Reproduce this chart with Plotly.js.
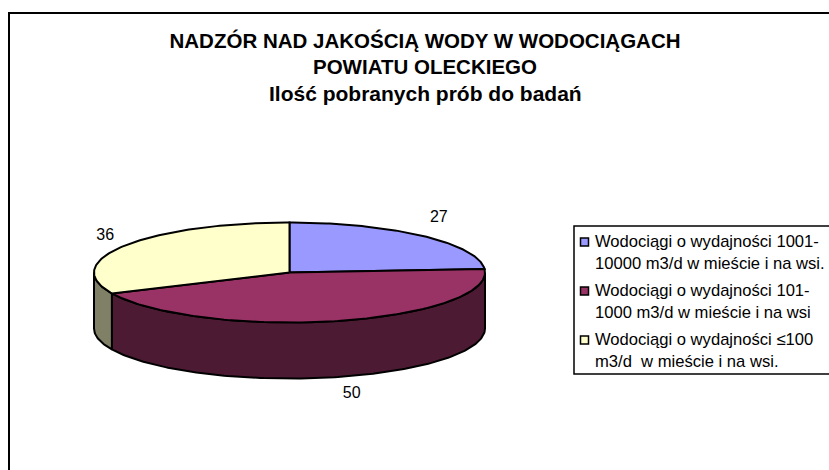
<!DOCTYPE html>
<html>
<head>
<meta charset="utf-8">
<script src="https://cdn.plot.ly/plotly-3.0.1.min.js"></script>
<style>html,body{margin:0;padding:0;background:#fff}</style>
</head>
<body>
<div id="chart" style="width:829px;height:470px"></div>
<script>
const categories = [
  "Wodociągi o wydajności 1001-<br>10000 m3/d w mieście i na wsi.",
  "Wodociągi o wydajności 101-<br>1000 m3/d w mieście i na wsi",
  "Wodociągi o wydajności ≤100<br>m3/d  w mieście i na wsi."
];
const values = [27, 50, 36];
const topColors = ["#9999FF", "#993366", "#FFFFCC"];
const sideColors = ["#4D4D80", "#4D1A33", "#808066"];
const titleLines = [
  "NADZÓR NAD JAKOŚCIĄ WODY W WODOCIĄGACH",
  "POWIATU OLECKIEGO",
  "Ilość pobranych prób do badań"
];

const FONT = "Liberation Sans, Arial, sans-serif";
const cx = 289.5, cy = 272.5, rx = 195.5, ry = 50, depth = 56;
const total = values.reduce((a, b) => a + b, 0);
const STEP = 1;

function pt(deg, dy) {
  const r = deg * Math.PI / 180;
  return [cx + rx * Math.sin(r), cy - ry * Math.cos(r) + (dy || 0)];
}
function arc(a, b, dy) {
  const out = [];
  const n = Math.max(2, Math.ceil(Math.abs(b - a) / STEP));
  for (let i = 0; i <= n; i++) out.push(pt(a + (b - a) * i / n, dy));
  return out;
}
function poly(points, color, name) {
  return {
    type: "scatter", mode: "lines", fill: "toself", fillcolor: color,
    x: points.map(p => p[0]), y: points.map(p => p[1]),
    line: {color: "#000", width: 2, shape: "linear"},
    hoverinfo: "skip", name: name || "", showlegend: false
  };
}

const traces = [];
let start = 0;
const spans = values.map(v => {
  const s = [start, start + v / total * 360];
  start = s[1];
  return s;
});

// side walls: only the part of the rim that faces the viewer (90° to 270°)
spans.forEach((s, i) => {
  const a = Math.max(s[0], 90), b = Math.min(s[1], 270);
  if (b > a) {
    traces.push(poly(arc(a, b, 0).concat(arc(b, a, depth)).concat([pt(a, 0)]), sideColors[i]));
  }
});
// top faces
spans.forEach((s, i) => {
  const pts = [[cx, cy]].concat(arc(s[0], s[1], 0)).concat([[cx, cy]]);
  traces.push(poly(pts, topColors[i], categories[i]));
});

// data labels placed outside the rim at each wedge's mid-angle
const labelK = [1.12, 1.12, 1.12], labelKy = [1.48, 1.35, 1.37], labelDx = [0, 8, 0], labelDy = [0, depth, 0];
const lab = spans.map((s, i) => {
  const m = (s[0] + s[1]) / 2 * Math.PI / 180;
  return [cx + labelK[i] * rx * Math.sin(m) + labelDx[i],
          cy - labelKy[i] * ry * Math.cos(m) + labelDy[i]];
});
traces.push({
  type: "scatter", mode: "text",
  x: lab.map(p => p[0]), y: lab.map(p => p[1]),
  text: values.map(String), textposition: "middle center",
  textfont: {family: FONT, size: 16, color: "#000"},
  hoverinfo: "skip", showlegend: false
});

// legend swatches
const legendX = 584.5, legendY = [242, 291, 340], legendTextX = 593, legendTextDy = 10.5;
traces.push({
  type: "scatter", mode: "markers",
  x: legendY.map(() => legendX), y: legendY,
  marker: {symbol: "square", size: 8, color: topColors, line: {color: "#000", width: 1.5}},
  hoverinfo: "skip", showlegend: false
});

const annotations = categories.map((c, i) => ({
  x: legendTextX, y: legendY[i] + legendTextDy, xref: "x", yref: "y",
  text: c, showarrow: false, xanchor: "left", yanchor: "middle", align: "left",
  font: {family: FONT, size: 16.6, color: "#000"}
}));
[[66, 20.5], [93, 21]].forEach((p, i) => annotations.push({
  x: 425, y: p[0], xref: "x", yref: "y", text: "<b>" + titleLines[i + 1] + "</b>",
  showarrow: false, xanchor: "center", yanchor: "middle",
  font: {family: FONT, size: p[1], color: "#000"}
}));

const layout = {
  width: 829, height: 470, autosize: false,
  margin: {l: 0, r: 0, t: 0, b: 0},
  paper_bgcolor: "#fff", plot_bgcolor: "#fff",
  showlegend: false,
  title: {
    text: "<b>" + titleLines[0] + "</b>",
    x: 425 / 829, xanchor: "center", xref: "paper",
    y: 1 - 41 / 470, yanchor: "middle", yref: "paper",
    font: {family: FONT, size: 20.5, color: "#000"}
  },
  xaxis: {range: [0, 829], visible: false, fixedrange: true},
  yaxis: {range: [470, 0], visible: false, fixedrange: true},
  annotations: annotations,
  shapes: [
    {type: "line", xref: "x", yref: "y", x0: 9, x1: 9, y0: 13, y1: 470, line: {color: "#000", width: 2}},
    {type: "line", xref: "x", yref: "y", x0: 8, x1: 829, y0: 13, y1: 13, line: {color: "#000", width: 2}},
    {type: "rect", xref: "x", yref: "y", x0: 574, x1: 832, y0: 226, y1: 374, line: {color: "#000", width: 1.5}, fillcolor: "#fff", layer: "below"}
  ]
};
Plotly.newPlot("chart", traces, layout, {displayModeBar: false, staticPlot: true});
</script>
</body>
</html>
